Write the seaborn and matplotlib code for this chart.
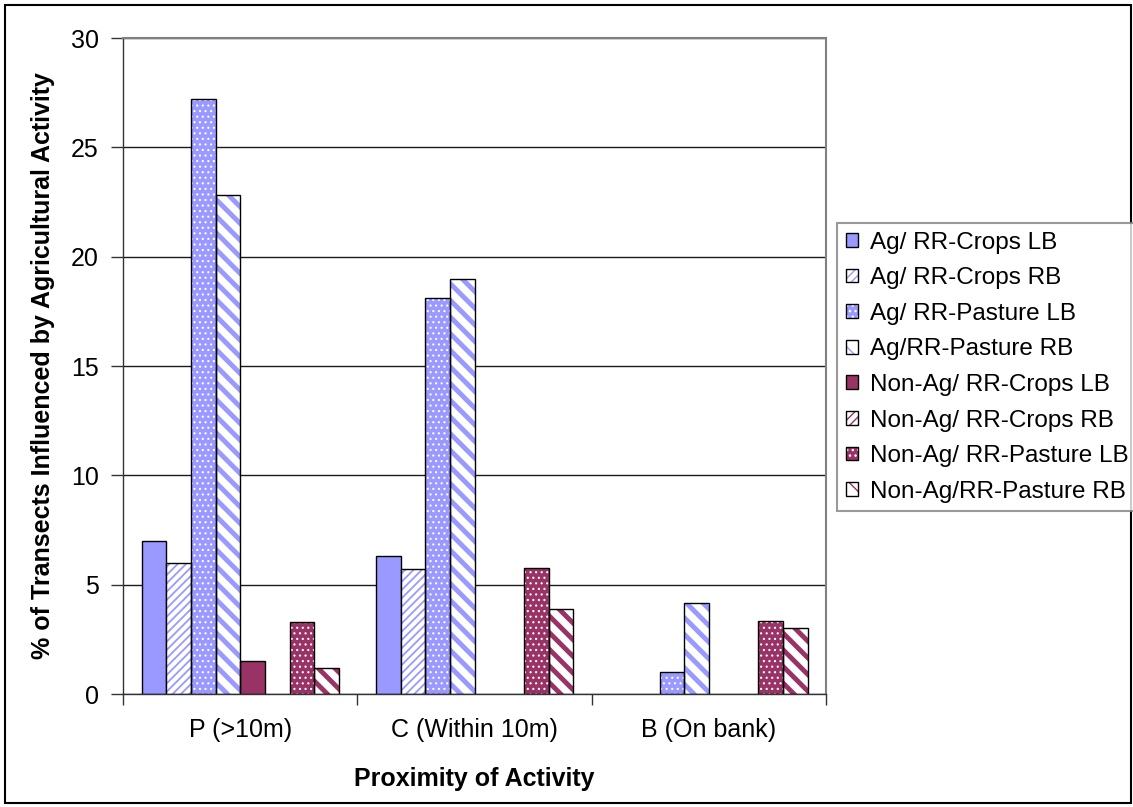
import numpy as np
import pandas as pd
import matplotlib
matplotlib.use("Agg")
import matplotlib.pyplot as plt
from matplotlib.patches import Rectangle, Patch
import seaborn as sns

# ---------------- data ----------------
categories = ["P (>10m)", "C (Within 10m)", "B (On bank)"]
series_names = [
    "Ag/ RR-Crops LB",
    "Ag/ RR-Crops RB",
    "Ag/ RR-Pasture LB",
    "Ag/RR-Pasture RB",
    "Non-Ag/ RR-Crops LB",
    "Non-Ag/ RR-Crops RB",
    "Non-Ag/ RR-Pasture LB",
    "Non-Ag/RR-Pasture RB",
]
ag_crops_lb = [7.0, 6.3, 0.0]
ag_crops_rb = [6.0, 5.7, 0.0]
ag_pasture_lb = [27.2, 18.1, 1.0]
ag_pasture_rb = [22.8, 19.0, 4.15]
nonag_crops_lb = [1.5, 0.0, 0.0]
nonag_crops_rb = [0.0, 0.0, 0.0]
nonag_pasture_lb = [3.3, 5.75, 3.35]
nonag_pasture_rb = [1.2, 3.9, 3.0]
y_ticks = [0, 5, 10, 15, 20, 25, 30]
x_label = "Proximity of Activity"
y_label = "% of Transects Influenced by Agricultural Activity"

series_values = [ag_crops_lb, ag_crops_rb, ag_pasture_lb, ag_pasture_rb,
                 nonag_crops_lb, nonag_crops_rb, nonag_pasture_lb, nonag_pasture_rb]

rows = []
for name, vals in zip(series_names, series_values):
    for cat, v in zip(categories, vals):
        rows.append({"proximity": cat, "series": name, "pct": v})
df = pd.DataFrame(rows)

# ---------------- style ----------------
plt.rcParams['font.family'] = ['Liberation Sans', 'DejaVu Sans']
AG = "#9999FF"
NONAG = "#993366"
colors = [AG] * 4 + [NONAG] * 4
kinds = ["solid", "thin", "dots", "wide"] * 2
FS = 18
LFS = 17.5

fig = plt.figure(figsize=(11.33, 8.07), dpi=100)
ax = fig.add_axes([0.1086, 0.140, 0.6205, 0.8129])

sns.barplot(data=df, x="proximity", y="pct", hue="series",
            order=categories, hue_order=series_names, palette=colors,
            width=0.842, saturation=1, gap=0, edgecolor="black",
            linewidth=1.0, errorbar=None, legend=False, ax=ax)

HATCH = {"thin": "////", "dots": "...", "wide": "\\\\"}
HLW = {"thin": 1.3, "dots": 0.8, "wide": 3.5}


def style_patch(p, color, kind):
    if kind == "solid":
        p.set_facecolor(color)
        p.set_edgecolor("black")
        p.set_linewidth(1.0)
        return False
    if kind == "dots":
        p.set_facecolor(color)
        p.set_edgecolor("white")
    else:
        p.set_facecolor("white")
        p.set_edgecolor(color)
    p.set_hatch(HATCH[kind])
    p.set_linewidth(0)
    if hasattr(p, "set_hatch_linewidth"):
        p.set_hatch_linewidth(HLW[kind])
    return True


for i, cont in enumerate(ax.containers):
    for p in cont:
        needs_outline = style_patch(p, colors[i], kinds[i])
        if needs_outline and p.get_height() > 0:
            ax.add_patch(Rectangle(p.get_xy(), p.get_width(), p.get_height(),
                                   fill=False, edgecolor="black", linewidth=1.0,
                                   zorder=p.get_zorder() + 0.1))
        if p.get_height() == 0:
            p.set_visible(False)

# axes
ax.set_xlim(-0.5, 2.5)
ax.set_ylim(0, 30)
ax.set_yticks(y_ticks)
ax.set_xticks(range(len(categories)))
ax.set_xticklabels(categories)
ax.set_xticks([-0.5, 0.5, 1.5, 2.5], minor=True)
ax.tick_params(axis="x", which="major", length=0, pad=17, labelsize=FS)
ax.tick_params(axis="x", which="minor", length=8, width=1, direction="out",
               color="#333333", bottom=True)
ax.tick_params(axis="y", length=9, width=1, direction="out", pad=8.5,
               labelsize=FS, color="#333333", left=True)
ax.yaxis.grid(True, color="#1a1a1a", linewidth=1.0)
ax.xaxis.grid(False)
ax.set_axisbelow(True)
for s in ["left", "bottom"]:
    ax.spines[s].set_color("#333333")
    ax.spines[s].set_linewidth(1.0)
for s in ["top", "right"]:
    ax.spines[s].set_color("#808080")
    ax.spines[s].set_linewidth(1.5)
ax.set_facecolor("white")

ax.set_xlabel(x_label, fontsize=FS, fontweight="bold", labelpad=18)
ax.set_ylabel(y_label, fontsize=FS, fontweight="bold", labelpad=11)

# legend
handles = []
for i, name in enumerate(series_names):
    kind = kinds[i]
    c = colors[i]
    if kind == "solid":
        handles.append(Patch(facecolor=c, edgecolor="black", linewidth=1.0))
        continue
    if kind == "dots":
        fill = Patch(facecolor=c, hatch=HATCH[kind], edgecolor="white", linewidth=0)
    else:
        fill = Patch(facecolor="white", hatch=HATCH[kind], edgecolor=c, linewidth=0)
    if hasattr(fill, "set_hatch_linewidth"):
        fill.set_hatch_linewidth(min(HLW[kind], 2.0))
    outline = Patch(fill=False, edgecolor="black", linewidth=1.0)
    handles.append((fill, outline))

leg = fig.legend(handles, series_names, loc="upper left",
                 bbox_to_anchor=(837 / 1133, 1 - 223 / 807),
                 bbox_transform=fig.transFigure, borderaxespad=0,
                 fontsize=LFS, frameon=True, fancybox=False,
                 handlelength=0.5, handleheight=0.5, handletextpad=0.5,
                 labelspacing=0.56, borderpad=0.35)
leg.get_frame().set_edgecolor("#808080")
leg.get_frame().set_linewidth(1.5)

# outer chart border
fig.add_artist(Rectangle((5 / 1133, 1 - 803 / 807), (1131 - 5) / 1133,
                         (803 - 4.5) / 807, transform=fig.transFigure,
                         fill=False, edgecolor="black", linewidth=1.5, zorder=-1))

fig.savefig("out.png", dpi=100, facecolor="white")
